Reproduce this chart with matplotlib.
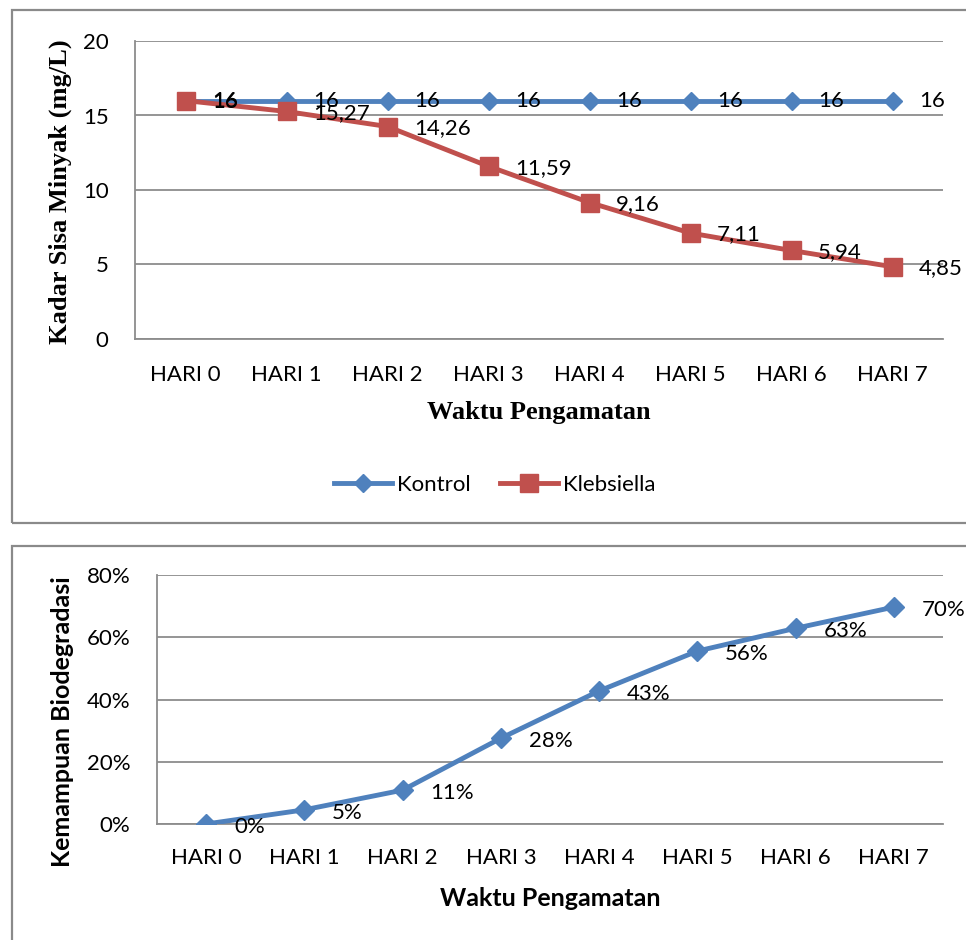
import matplotlib
matplotlib.use("Agg")
import matplotlib.pyplot as plt
from matplotlib.patches import Rectangle
from matplotlib.lines import Line2D

# ---- data ----
categories = ["HARI 0", "HARI 1", "HARI 2", "HARI 3", "HARI 4", "HARI 5", "HARI 6", "HARI 7"]
kontrol = [16, 16, 16, 16, 16, 16, 16, 16]
klebsiella = [16, 15.27, 14.26, 11.59, 9.16, 7.11, 5.94, 4.85]
biodeg = [0.0, 4.56, 10.88, 27.56, 42.75, 55.56, 62.88, 69.69]   # percent
biodeg_labels = ["0%", "5%", "11%", "28%", "43%", "56%", "63%", "70%"]
top_yticks = [0, 5, 10, 15, 20]
bot_yticks = [0, 20, 40, 60, 80]

BLUE = "#4F81BD"
RED = "#C0504D"
GRID = "#8C8C8C"
W, H = 966, 940
TICKFONT = "Lato"
TS = 16

fig = plt.figure(figsize=(W / 100, H / 100), dpi=100)
fig.patch.set_facecolor("white")

def fx(px):
    return px / W

def fy(py):
    return 1 - py / H

# panel frames
fig.add_artist(Rectangle((fx(12), fy(523)), fx(980) - fx(12), fy(10) - fy(523),
                         transform=fig.transFigure, fill=False, ec="#8A8A8A", lw=1.6))
fig.add_artist(Rectangle((fx(12), fy(960)), fx(980) - fx(12), fy(546) - fy(960),
                         transform=fig.transFigure, fill=False, ec="#8A8A8A", lw=1.6))

def style_axes(ax, yticks, ylabels, xpad):
    x = list(range(len(categories)))
    ax.set_xlim(-0.5, len(categories) - 0.5)
    ax.set_xticks(x)
    ax.set_xticklabels(categories, fontfamily=TICKFONT, fontsize=TS)
    ax.set_yticks(yticks)
    ax.set_yticklabels(ylabels, fontfamily=TICKFONT, fontsize=TS)
    ax.tick_params(axis="both", length=0)
    ax.tick_params(axis="y", pad=19)
    ax.tick_params(axis="x", pad=xpad)
    for s in ["top", "right"]:
        ax.spines[s].set_visible(False)
    ax.spines["left"].set_color(GRID)
    ax.spines["bottom"].set_color(GRID)
    ax.spines["left"].set_linewidth(1.3)
    ax.spines["bottom"].set_linewidth(1.3)
    ax.yaxis.grid(True, color=GRID, lw=1.3)
    ax.set_axisbelow(True)

x = list(range(len(categories)))

# ---- top chart ----
ax1 = fig.add_axes([fx(135), fy(339), fx(943) - fx(135), fy(41) - fy(339)])
ax1.plot(x, kontrol, color=BLUE, lw=3.5, marker="D", ms=9.5, mec=BLUE, mfc=BLUE, zorder=3)
ax1.plot(x, klebsiella, color=RED, lw=3.5, marker="s", ms=12.5, mec=RED, mfc=RED, zorder=4)
ax1.set_ylim(0, 20)
style_axes(ax1, top_yticks, [str(v) for v in top_yticks], 19)
for i, v in enumerate(kontrol):
    ax1.annotate(f"{v:g}".replace(".", ","), (i, v), xytext=(19, 0), textcoords="offset points",
                 ha="left", va="center", fontfamily=TICKFONT, fontsize=TS, zorder=6)
for i, v in enumerate(klebsiella):
    ax1.annotate(f"{v:g}".replace(".", ","), (i, v), xytext=(19, -1), textcoords="offset points",
                 ha="left", va="center", fontfamily=TICKFONT, fontsize=TS, zorder=6)
fig.text(fx(539), fy(413), "Waktu Pengamatan", ha="center", va="center",
         fontfamily="Liberation Serif", fontweight="bold", fontsize=19)
fig.text(fx(60), fy(192), "Kadar Sisa Minyak (mg/L)", rotation=90, ha="center", va="center",
         fontfamily="Liberation Serif", fontweight="bold", fontsize=19)

handles = [Line2D([], [], color=BLUE, lw=3.5, marker="D", ms=9.5),
           Line2D([], [], color=RED, lw=3.5, marker="s", ms=12.5)]
fig.legend(handles, ["Kontrol", "Klebsiella"], loc="center", bbox_to_anchor=(fx(495), fy(485)),
           ncol=2, frameon=False, prop={"family": TICKFONT, "size": TS},
           handlelength=2.6, handletextpad=0.25, columnspacing=1.3)

# ---- bottom chart ----
ax2 = fig.add_axes([fx(157), fy(824), fx(943) - fx(157), fy(575) - fy(824)])
ax2.plot(x, biodeg, color=BLUE, lw=3.5, marker="D", ms=10, mec=BLUE, mfc=BLUE, zorder=3)
ax2.set_ylim(0, 80)
style_axes(ax2, bot_yticks, [f"{v}%" for v in bot_yticks], 17)
for i, (v, lab) in enumerate(zip(biodeg, biodeg_labels)):
    ax2.annotate(lab, (i, v), xytext=(20, -2), textcoords="offset points",
                 ha="left", va="center", fontfamily=TICKFONT, fontsize=TS, zorder=6)
fig.text(fx(550), fy(898), "Waktu Pengamatan", ha="center", va="center",
         fontfamily=TICKFONT, fontweight="bold", fontsize=18)
fig.text(fx(62), fy(722), "Kemampuan Biodegradasi", rotation=90, ha="center", va="center",
         fontfamily=TICKFONT, fontweight="bold", fontsize=18)

fig.savefig("out.png", dpi=100, facecolor="white")
